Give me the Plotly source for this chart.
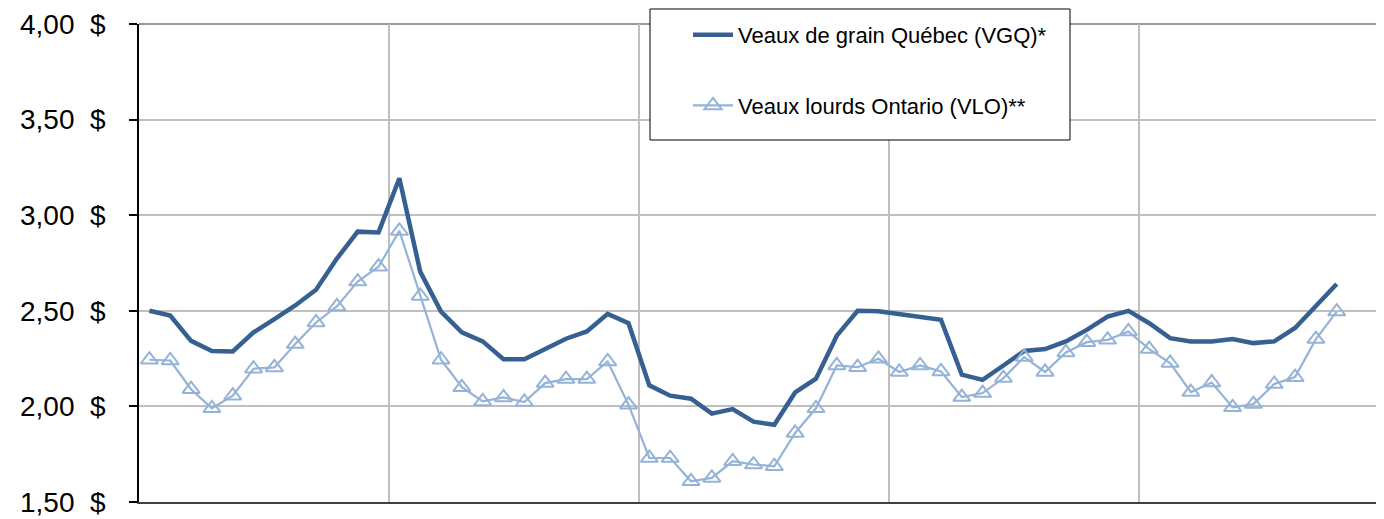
import plotly.graph_objects as go

# Monthly prices ($/lb), 58 months, yearly gridlines every 12 months
vgq = [2.50, 2.475, 2.343, 2.29, 2.287, 2.387, 2.457, 2.528, 2.61, 2.773,
       2.914, 2.91, 3.193, 2.705, 2.496, 2.387, 2.34, 2.247, 2.247, 2.30,
       2.354, 2.392, 2.484, 2.435, 2.11, 2.056, 2.04, 1.962, 1.986, 1.92,
       1.904, 2.073, 2.145, 2.37, 2.50, 2.497, 2.483, 2.467, 2.453, 2.166,
       2.139, 2.214, 2.29, 2.30, 2.34, 2.40, 2.47, 2.50, 2.435, 2.357,
       2.34, 2.34, 2.352, 2.331, 2.34, 2.41, 2.523, 2.64]
vlo = [2.244, 2.24, 2.09, 1.99, 2.056, 2.197, 2.204, 2.326, 2.439, 2.523,
       2.653, 2.731, 2.918, 2.578, 2.244, 2.10, 2.026, 2.047, 2.023, 2.122,
       2.143, 2.143, 2.235, 2.009, 1.73, 1.73, 1.608, 1.626, 1.713, 1.696,
       1.687, 1.861, 1.99, 2.214, 2.205, 2.249, 2.18, 2.214, 2.183, 2.049,
       2.07, 2.148, 2.258, 2.18, 2.282, 2.336, 2.348, 2.392, 2.30, 2.227,
       2.075, 2.125, 1.995, 2.012, 2.117, 2.153, 2.352, 2.496]
months = list(range(len(vgq)))
year_breaks = [11.5, 23.5, 35.5, 47.5, 59.5]
y_ticks = [1.5, 2.0, 2.5, 3.0, 3.5, 4.0]
y_labels = ["1,50  $", "2,00  $", "2,50  $", "3,00  $", "3,50  $", "4,00  $"]
names = ["Veaux de grain Québec (VGQ)*", "Veaux lourds Ontario (VLO)**"]

fig = go.Figure()
fig.add_trace(go.Scatter(x=months, y=vgq, mode="lines", name=names[0],
                         line=dict(color="#376092", width=4.5),
                         legendgroup="a"))
fig.add_trace(go.Scatter(x=months, y=vlo, mode="lines+markers", name=names[1],
                         line=dict(color="#95B3D7", width=2.2),
                         marker=dict(symbol="triangle-up-open", size=15,
                                     color="#95B3D7", line=dict(width=2, color="#95B3D7")),
                         legendgroup="b"))

# darker top border line
fig.add_shape(type="line", xref="paper", yref="paper", x0=0, x1=1, y0=1, y1=1,
              line=dict(color="#9A9A9A", width=2), layer="below")

# legend box
fig.add_shape(type="rect", xref="paper", yref="paper",
              x0=(650 - 139) / 1245, x1=(1070 - 139) / 1245,
              y0=(502 - 140) / 478, y1=(502 - 9) / 478,
              fillcolor="white", line=dict(color="black", width=1), layer="above")

fig.update_layout(
    width=1376, height=511,
    margin=dict(l=131, r=0, t=16, b=17),
    paper_bgcolor="white", plot_bgcolor="white",
    font=dict(family="Liberation Sans, Arial, sans-serif", color="black"),
    showlegend=True,
    legend=dict(x=(688 - 139) / 1245, y=(502 - 14) / 478, xanchor="left", yanchor="top",
                bgcolor="rgba(0,0,0,0)", borderwidth=0,
                font=dict(family="Liberation Sans, Arial, sans-serif", size=22),
                traceorder="grouped", tracegroupgap=39, itemwidth=40),
    xaxis=dict(range=[-0.5, 59.27], tickvals=year_breaks, showticklabels=False,
               ticks="", showgrid=True, gridcolor="#BFBFBF", gridwidth=1.5,
               showline=True, linecolor="#404040", linewidth=2, zeroline=False,
               fixedrange=True),
    yaxis=dict(range=[1.5, 4.0], tickvals=y_ticks, ticktext=y_labels,
               showgrid=True, gridcolor="#BFBFBF", gridwidth=1.5,
               showline=True, linecolor="black", linewidth=1.5,
               ticks="outside", ticklen=8, tickcolor="black", tickwidth=1.5,
               ticklabelstandoff=18,
               tickfont=dict(size=28, family="Liberation Sans, Arial, sans-serif"),
               zeroline=False, fixedrange=True),
)

fig.write_html("out.html")
